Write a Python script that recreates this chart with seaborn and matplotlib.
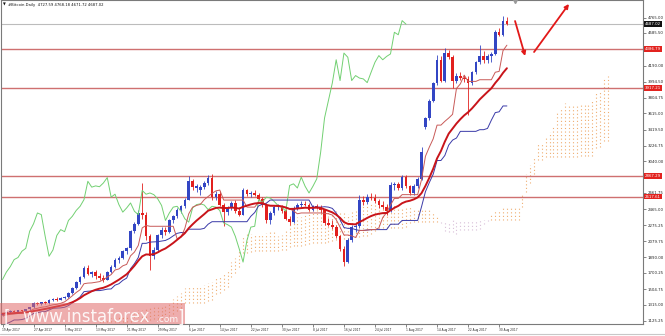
import numpy as np
import pandas as pd
import matplotlib
matplotlib.use("Agg")
import matplotlib.pyplot as plt
import seaborn as sns
from matplotlib.patches import Rectangle
from matplotlib.lines import Line2D

# ---------------- data ----------------
opens = [1195, 1210, 1230, 1245, 1235, 1250, 1245, 1265, 1285, 1335,
         1330, 1345, 1340, 1375, 1390, 1380, 1400, 1410, 1455, 1520,
         1585, 1650, 1760, 1690, 1705, 1665, 1640, 1620, 1710, 1775,
         1860, 1885, 1960, 1995, 2200, 2290, 2420, 2400, 2140, 1900,
         1975, 2150, 2220, 2195, 2330, 2380, 2450, 2500, 2580, 2800,
         2720, 2700, 2735, 2780, 2845, 2610, 2645, 2520, 2430, 2480,
         2540, 2440, 2400, 2690, 2645, 2660, 2640, 2590, 2510, 2330,
         2420, 2490, 2500, 2440, 2350, 2310, 2480, 2520, 2530, 2515,
         2460, 2500, 2490, 2450, 2300, 2280, 2250, 2140, 1990, 1830,
         2090, 2250, 2260, 2580, 2550, 2610, 2600, 2560, 2510, 2490,
         2440, 2750, 2770, 2720, 2850, 2740, 2660, 2740, 2830, 3450,
         3560, 3770, 3980, 4260, 4010, 4340, 4290, 4010, 4070, 4040,
         4030, 3985, 4110, 4230, 4310, 4260, 4300, 4330, 4590, 4560,
         4727.59]
highs = [1215, 1240, 1255, 1255, 1255, 1260, 1270, 1295, 1345, 1350,
         1355, 1360, 1385, 1400, 1405, 1410, 1425, 1465, 1530, 1600,
         1665, 1780, 1790, 1725, 1730, 1700, 1670, 1720, 1790, 1880,
         1905, 1980, 2015, 2220, 2310, 2450, 2780, 2430, 2170, 2010,
         2170, 2250, 2250, 2350, 2400, 2480, 2520, 2600, 2860, 2830,
         2765, 2760, 2800, 2870, 2890, 2680, 2680, 2545, 2500, 2560,
         2570, 2490, 2720, 2710, 2685, 2690, 2660, 2610, 2540, 2440,
         2510, 2530, 2520, 2470, 2380, 2500, 2540, 2560, 2560, 2540,
         2520, 2530, 2510, 2470, 2360, 2330, 2270, 2160, 2020, 2120,
         2270, 2290, 2640, 2620, 2650, 2660, 2650, 2590, 2560, 2530,
         2790, 2790, 2790, 2880, 2880, 2760, 2770, 2850, 3210, 3570,
         3790, 3990, 4320, 4300, 4400, 4380, 4320, 4100, 4110, 4080,
         4070, 4130, 4250, 4440, 4360, 4330, 4350, 4620, 4640, 4780,
         4768.18]
lows = [1185, 1200, 1220, 1225, 1225, 1235, 1240, 1260, 1280, 1310,
        1320, 1330, 1330, 1360, 1365, 1370, 1385, 1400, 1445, 1510,
        1570, 1640, 1670, 1645, 1630, 1610, 1590, 1610, 1700, 1760,
        1820, 1870, 1930, 1980, 2180, 2270, 2350, 2100, 1740, 1870,
        1960, 2120, 2160, 2185, 2300, 2365, 2420, 2480, 2570, 2700,
        2670, 2640, 2710, 2760, 2580, 2570, 2500, 2260, 2400, 2450,
        2420, 2380, 2390, 2620, 2610, 2620, 2570, 2490, 2300, 2290,
        2390, 2460, 2420, 2330, 2280, 2300, 2460, 2490, 2500, 2440,
        2440, 2470, 2420, 2270, 2260, 2230, 2120, 1960, 1780, 1820,
        2070, 2190, 2240, 2520, 2530, 2570, 2540, 2480, 2470, 2400,
        2430, 2700, 2700, 2700, 2720, 2630, 2640, 2720, 2810, 3430,
        3540, 3750, 3960, 3990, 3990, 4270, 3920, 3980, 4020, 3990,
        3600, 3960, 4090, 4210, 4220, 4220, 4230, 4320, 4540, 4540,
        4671.72]
closes = [1210, 1230, 1245, 1235, 1250, 1245, 1265, 1285, 1335, 1330,
          1345, 1340, 1375, 1390, 1380, 1400, 1410, 1455, 1520, 1585,
          1650, 1760, 1690, 1705, 1665, 1640, 1620, 1710, 1775, 1860,
          1885, 1960, 1995, 2200, 2290, 2420, 2400, 2140, 1900, 1975,
          2150, 2220, 2195, 2330, 2380, 2450, 2500, 2580, 2800, 2730,
          2745, 2735, 2780, 2845, 2610, 2645, 2520, 2430, 2480, 2540,
          2440, 2400, 2690, 2645, 2660, 2640, 2590, 2510, 2330, 2420,
          2490, 2500, 2440, 2350, 2310, 2480, 2520, 2530, 2515, 2460,
          2500, 2490, 2450, 2300, 2280, 2250, 2140, 1990, 1830, 2090,
          2250, 2260, 2580, 2550, 2610, 2600, 2560, 2510, 2490, 2440,
          2750, 2770, 2720, 2850, 2740, 2660, 2740, 2830, 3150, 3560,
          3770, 3980, 4260, 4010, 4340, 4290, 4010, 4070, 4040, 4030,
          3985, 4110, 4230, 4310, 4260, 4300, 4330, 4590, 4560, 4730,
          4687.02]

# bars before the visible window (only feed the Ichimoku calculation)
hist_high = [1180, 1200, 1210, 1225, 1285, 1290, 1280, 1275, 1280, 1275,
             1240, 1210, 1330, 1230, 1240, 1245, 1255, 1260, 1255, 1160,
             1095, 1060, 1055, 1120, 1120, 1065, 1045, 975, 1000, 1050,
             1060, 1055, 1050, 1080, 1095, 1105, 1150, 1160, 1140, 1200,
             1200, 1195, 1215, 1215, 1220, 1225, 1215, 1190, 1195, 1190,
             1205, 1215]
hist_low = [1130, 1170, 1170, 1185, 1220, 1255, 1240, 1235, 1255, 1150,
            1140, 1150, 1030, 1100, 1190, 1215, 1225, 1240, 1140, 1070,
            950, 960, 1020, 1045, 1000, 1020, 940, 890, 940, 965,
            1025, 1015, 1020, 1035, 1070, 1080, 1095, 1120, 1110, 1125,
            1165, 1170, 1175, 1195, 1195, 1200, 1150, 1160, 1175, 1170,
            1175, 1190]

date_labels = ["19 Apr 2017", "27 Apr 2017", "5 May 2017", "13 May 2017",
               "21 May 2017", "29 May 2017", "6 Jun 2017", "14 Jun 2017",
               "22 Jun 2017", "30 Jun 2017", "8 Jul 2017", "16 Jul 2017",
               "24 Jul 2017", "1 Aug 2017", "14 Aug 2017", "22 Aug 2017",
               "30 Aug 2017"]
date_label_bars = [0, 8, 16, 24, 32, 40, 48, 56, 64, 72, 80, 88, 96, 104,
                   112, 120, 128]
price_ticks = [4765.00, 4585.50, 4190.00, 3994.50, 3804.75, 3615.00,
               3419.50, 3226.75, 3040.00, 2661.75, 2465.00, 2275.25,
               2079.75, 1890.00, 1700.25, 1504.75, 1315.00, 1125.25]
level_lines = [4386.79, 3917.21, 2867.29, 2617.61]
last_price = 4687.02
title_text = "#Bitcoin.Daily  4727.59 4768.18 4671.72 4687.02"

# forecast arrows (bar index, price)
arrow_down = [(132.1, 4725), (134.7, 4305)]
arrow_up = [(137.0, 4353), (146.0, 4930)]

# ---------------- style ----------------
sns.set_style("white")
plt.rcParams["font.family"] = ["DejaVu Sans"]

BULL = "#3346c4"
BEAR = "#e2201e"
W, HP = 665, 336

fig = plt.figure(figsize=(W / 100, HP / 100), dpi=100)
ax = fig.add_axes([1 / W, 12 / HP, 642 / W, 324 / HP])

n = len(closes)
idx = np.arange(n)
o = np.array(opens, float)
h = np.array(highs, float)
l = np.array(lows, float)
c = np.array(closes, float)

# ---------------- Ichimoku & MA ----------------
Hs = pd.Series(hist_high + highs, dtype=float)
Ls = pd.Series(hist_low + lows, dtype=float)
off = len(hist_high)
tenkan_full = (Hs.rolling(9).max() + Ls.rolling(9).min()) / 2
kijun_full = (Hs.rolling(26).max() + Ls.rolling(26).min()) / 2
span_a = ((tenkan_full + kijun_full) / 2).values
span_b = ((Hs.rolling(52).max() + Ls.rolling(52).min()) / 2).values
span_pos = np.arange(len(Hs)) + 26 - off
ok = (span_pos >= -1) & ~np.isnan(span_a) & ~np.isnan(span_b)
cloud = pd.DataFrame({"x": span_pos[ok], "a": span_a[ok], "b": span_b[ok]})

ichi = pd.DataFrame({"x": idx,
                     "tenkan": tenkan_full.values[off:],
                     "kijun": kijun_full.values[off:]})
chikou = pd.DataFrame({"x": idx[:n - 26], "y": c[26:]})
ma = pd.DataFrame({"x": idx, "y": pd.Series(c).ewm(span=20, adjust=False).mean()})

# cloud: dotted vertical strokes (MT4 style)
up_cloud = cloud[cloud.a >= cloud.b]
dn_cloud = cloud[cloud.a < cloud.b]
ax.vlines(up_cloud.x, up_cloud.b, up_cloud.a, colors="#efae72",
          linestyles=(0, (1, 2.2)), lw=0.8, zorder=1)
ax.vlines(dn_cloud.x, dn_cloud.a, dn_cloud.b, colors="#d8bfd8",
          linestyles=(0, (1, 2.2)), lw=0.8, zorder=1)

# levels
for v in level_lines:
    ax.axhline(v, color="#cf7070", lw=1.0, zorder=2)
ax.axhline(last_price, color="#bcbcbc", lw=0.8, zorder=2)

# candles
col = np.where(c >= o, BULL, BEAR)
ax.vlines(idx, l, h, colors=col, lw=0.6, zorder=3)
body_lo = np.minimum(o, c)
body_h = np.maximum(np.abs(c - o), 10)
ax.bar(idx, body_h, bottom=body_lo, width=0.7, color=col, lw=0, zorder=4)

# indicator lines through seaborn
sns.lineplot(data=chikou, x="x", y="y", ax=ax, color="#72d072", lw=0.7, zorder=5)
sns.lineplot(data=ichi.dropna(subset=["kijun"]), x="x", y="kijun", ax=ax,
             color="#3a3aa8", lw=0.7, zorder=5)
sns.lineplot(data=ichi.dropna(subset=["tenkan"]), x="x", y="tenkan", ax=ax,
             color="#c85a58", lw=0.7, zorder=5)
sns.lineplot(data=ma, x="x", y="y", ax=ax, color="#c8141a", lw=1.4, zorder=6)

# arrows
for (x0, y0), (x1, y1) in (arrow_down, arrow_up):
    ax.annotate("", xy=(x1, y1), xytext=(x0, y0),
                arrowprops=dict(arrowstyle="-|>", color="#e21818", lw=1.3,
                                mutation_scale=6, shrinkA=0, shrinkB=0),
                zorder=7)
ax.plot([132.1], [4962], marker="v", color="#9a9a9a", ms=3, clip_on=False, zorder=7)

# axes
ax.set_xlim((1 - 2.5) / 3.88, (643 - 2.5) / 3.88)
ax.set_ylim(4977.6 - 12.01 * 324, 4977.6)
ax.set_xlabel("")
ax.set_ylabel("")
for s in ax.spines.values():
    s.set_color("#7a7a7a")
    s.set_linewidth(0.8)

ax.yaxis.tick_right()
ax.set_yticks(price_ticks)
ax.set_yticklabels([f"{v:.2f}" for v in price_ticks])
ax.tick_params(axis="y", right=True, length=2, width=0.5, color="#555555",
               labelsize=2.8, pad=1.2, labelcolor="#222222")
ax.set_xticks(date_label_bars)
ax.set_xticklabels(date_labels, ha="left")
ax.tick_params(axis="x", bottom=True, length=2, width=0.5, color="#555555",
               labelsize=2.1, pad=1.0, labelcolor="#222222")

# price boxes on the right scale
ytr = ax.get_yaxis_transform()
for v in level_lines:
    ax.text(1.003, v, f"{v:.2f}", transform=ytr, ha="left", va="center",
            fontsize=2.8, color="white", zorder=10, clip_on=False,
            bbox=dict(boxstyle="square,pad=0.25", fc="#e2231f", ec="none"))
ax.text(1.003, last_price, f"{last_price:.2f}", transform=ytr, ha="left",
        va="center", fontsize=2.8, color="white", zorder=10, clip_on=False,
        bbox=dict(boxstyle="square,pad=0.25", fc="#111111", ec="none"))

# title
fig.text(2.5 / W, 1 - 5 / HP, "▼", fontsize=2.6, color="#111111", va="center")
fig.text(8 / W, 1 - 5 / HP, title_text, fontsize=2.7, color="#111111", va="center")

# watermark
fig.add_artist(Rectangle((0, 12 / HP), 185 / W, 21 / HP, transform=fig.transFigure,
                         fc="#e06a6a", ec="none", alpha=0.55, zorder=20))
wm_y = 13.5 / HP
fig.text(4 / W, wm_y, "[", fontsize=12, color="white", alpha=0.9, zorder=21, va="baseline")
fig.text(22 / W, wm_y, "www.instaforex", fontsize=12, color="white", alpha=0.9,
         zorder=21, va="baseline")
fig.text(156 / W, wm_y, ".com", fontsize=6.5, color="white", alpha=0.9,
         zorder=21, va="baseline")
fig.text(177 / W, wm_y, "]", fontsize=12, color="white", alpha=0.9, zorder=21, va="baseline")

# bottom tab strip line
fig.add_artist(Line2D([0, 1], [2 / HP, 2 / HP], transform=fig.transFigure,
                      color="#c8c8c8", lw=0.8))

fig.savefig("out.png", dpi=100)
